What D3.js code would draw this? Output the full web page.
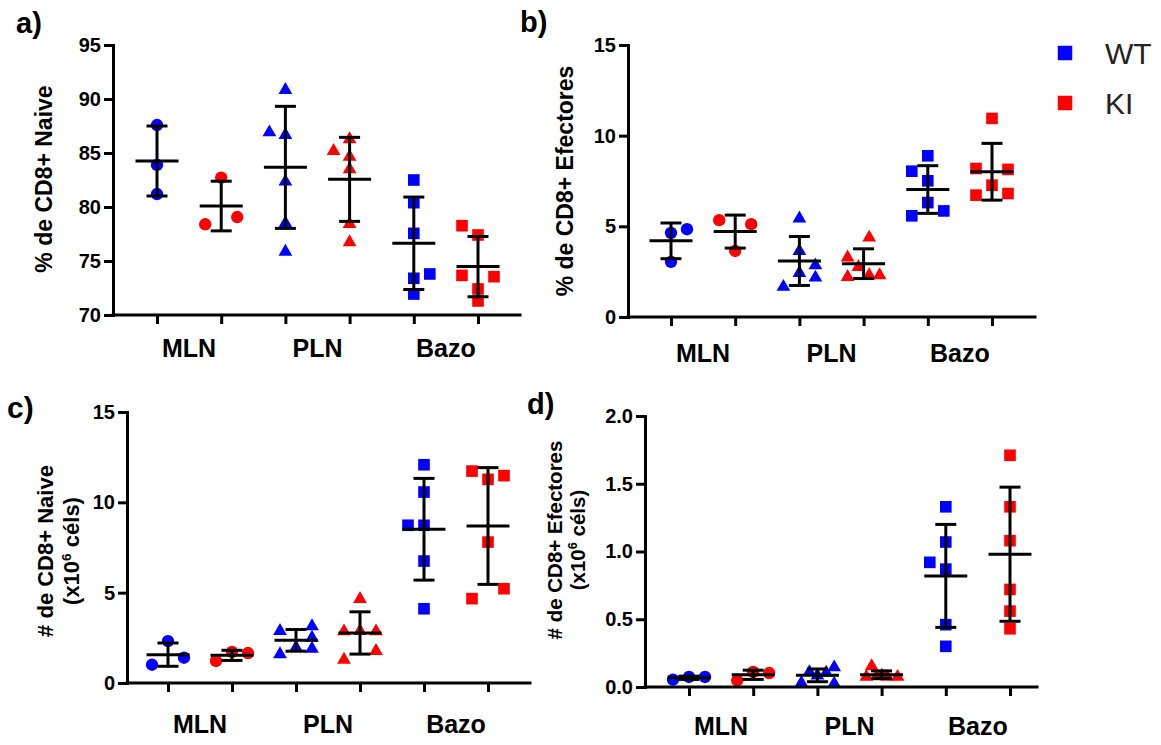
<!DOCTYPE html>
<html>
<head>
<meta charset="utf-8">
<script src="https://cdn.jsdelivr.net/npm/d3@7"></script>
<style>
  html, body { margin: 0; padding: 0; background: #ffffff; }
  svg { display: block; }
</style>
</head>
<body>
<svg id="chart" width="1161" height="745"></svg>
<script>
// ---------------- DATA ----------------
const categories = ["MLN", "PLN", "Bazo"];
const genotypes = ["WT", "KI"];
// column order in each panel: WT-MLN, KI-MLN, WT-PLN, KI-PLN, WT-Bazo, KI-Bazo

// a) % de CD8+ Naive
const aTicks = [70, 75, 80, 85, 90, 95];
const aValues = [
  [87.59, 83.89, 81.20],
  [82.72, 78.40, 79.07],
  [90.83, 86.91, 86.67, 82.35, 78.49, 75.86],
  [86.27, 85.19, 84.66, 83.49, 78.43, 76.73],
  [82.50, 80.40, 77.56, 73.40, 73.80, 71.94],
  [78.27, 77.41, 73.67, 73.55, 72.41, 71.30]
];
const aSpread = [
  [0, 0, 0],
  [0, -1, 1],
  [0, -1, 0, 0, 0, 0],
  [0, -1, 0, 0, 0, 0],
  [0, 0, 0, 0, 1, 0],
  [-1, 0, -1, 1, 0, 0]
];
const aMean = [84.26, 80.09, 83.67, 82.56, 76.64, 74.48];
const aSD = [3.24, 2.30, 5.65, 3.89, 4.28, 2.79];

// b) % de CD8+ Efectores
const bTicks = [0, 5, 10, 15];
const bValues = [
  [4.64, 4.84, 3.04],
  [5.34, 5.12, 3.64],
  [5.43, 3.64, 2.85, 2.43, 2.17, 1.66],
  [4.38, 3.28, 2.76, 2.21, 2.30, 2.30],
  [8.89, 8.04, 7.51, 6.31, 5.58, 5.85],
  [10.95, 8.19, 8.14, 7.27, 6.72, 6.81]
];
const bSpread = [
  [0, 1, 0],
  [-1, 1, 0],
  [0, 0, 1, 0, 1, -1],
  [0.35, -1, -0.32, -1, 0.35, 1],
  [0, -1, 0, 0, -1, 1],
  [0, -1, 1, 0, -1, 1]
];
const bMean = [4.20, 4.71, 3.09, 2.94, 7.03, 8.01];
const bSD = [0.985, 0.91, 1.35, 0.82, 1.315, 1.565];

// c) # de CD8+ Naive (x10^6 céls)
const cTicks = [0, 5, 10, 15];
const cValues = [
  [2.32, 1.40, 1.01],
  [1.22, 1.72, 1.66],
  [2.88, 3.14, 2.51, 1.96, 1.90, 1.59],
  [4.65, 2.86, 2.88, 2.86, 1.77, 1.29],
  [12.08, 10.57, 8.73, 8.73, 6.75, 4.11],
  [11.73, 11.27, 11.48, 7.80, 4.67, 5.22]
];
const cSpread = [
  [0, 1, -1],
  [-1, 0, 1],
  [-1, 1, 1, 0, 1, -1],
  [0, -1, 0, 1, 1, -1],
  [0, 0, -1, 0, 0, 0],
  [-1, 0, 1, 0, -1, 1]
];
const cMean = [1.57, 1.53, 2.36, 2.77, 8.51, 8.69];
const cSD = [0.645, 0.28, 0.60, 1.17, 2.815, 3.23];

// d) # de CD8+ Efectores (x10^6 céls)
const dTicks = [0.0, 0.5, 1.0, 1.5, 2.0];
const dValues = [
  [0.054, 0.074, 0.074],
  [0.049, 0.111, 0.103],
  [0.030, 0.110, 0.085, 0.105, 0.145, 0.025],
  [0.153, 0.075, 0.080, 0.075, 0.075, 0.085],
  [1.33, 1.07, 0.92, 0.87, 0.46, 0.30],
  [1.71, 1.33, 1.08, 0.72, 0.56, 0.43]
];
const dSpread = [
  [-1, 0, 1],
  [-1, 0, 1],
  [-1, -0.5, 0, 0.55, 1.05, 1.05],
  [-0.62, -0.95, -0.3, 0.35, 1.0, 0.02],
  [0, 0, -1, 0, 0, 0],
  [0, 0, 0, 0, 0, 0]
];
const dMean = [0.068, 0.090, 0.086, 0.091, 0.82, 0.98];
const dSD = [0.012, 0.034, 0.047, 0.028, 0.38, 0.495];

// ---------------- STYLE / LAYOUT ----------------
const FONT = "'Liberation Sans', Arial, Helvetica, sans-serif";
const colorOf = { WT: "#0000ff", KI: "#ff0000" };
const shapeOf = { MLN: d3.symbolCircle, PLN: d3.symbolTriangle, Bazo: d3.symbolSquare };
const sizeOf = { MLN: 120, PLN: 82, Bazo: 135 };

const svg = d3.select("#chart");

// faint legend backdrop
svg.append("rect").attr("x", 1033).attr("y", 22).attr("width", 128).attr("height", 112)
  .attr("fill", "#fdfdfd");

const panels = [
  { key: "a)", values: aValues, spread: aSpread, mean: aMean, sd: aSD, ticks: aTicks,
    domain: [70, 95], fmt: d3.format("d"),
    left: 113, right: 520, top: 45, bottom: 315, first: 157, last: 478,
    tag: { x: 16, y: 33, size: 29 }, catY: 357,
    title: { lines: ["% de CD8+ Naive"], x: [52], size: 23, cy: 179 } },
  { key: "b)", values: bValues, spread: bSpread, mean: bMean, sd: bSD, ticks: bTicks,
    domain: [0, 15], fmt: d3.format("d"),
    left: 628, right: 1035, top: 45, bottom: 317, first: 671, last: 992,
    tag: { x: 520, y: 32, size: 29 }, catY: 362,
    title: { lines: ["% de CD8+ Efectores"], x: [573], size: 23, cy: 181 } },
  { key: "c)", values: cValues, spread: cSpread, mean: cMean, sd: cSD, ticks: cTicks,
    domain: [0, 15], fmt: d3.format("d"),
    left: 127, right: 530, top: 412, bottom: 683, first: 168, last: 488,
    tag: { x: 7, y: 418, size: 30 }, catY: 733,
    title: { lines: ["# de CD8+ Naive", "SUP"], x: [53, 79], size: 22, cy: 551 } },
  { key: "d)", values: dValues, spread: dSpread, mean: dMean, sd: dSD, ticks: dTicks,
    domain: [0, 2], fmt: d3.format(".1f"),
    left: 645, right: 1037, top: 416, bottom: 687, first: 689, last: 1010,
    tag: { x: 527, y: 414, size: 29 }, catY: 735,
    title: { lines: ["# de CD8+ Efectores", "SUP"], x: [562, 585], size: 20.5, cy: 540 } }
];

const colKeys = [];
categories.forEach(c => genotypes.forEach(g => colKeys.push({ cat: c, geno: g, id: g + "-" + c })));

const spreadScale = d3.scaleLinear().domain([-1, 1]).range([-16, 16]);

panels.forEach(p => {
  const g = svg.append("g");
  const y = d3.scaleLinear().domain(p.domain).range([p.bottom, p.top]);
  const x = d3.scalePoint().domain(colKeys.map(k => k.id)).range([p.first, p.last]);

  // points
  colKeys.forEach((k, i) => {
    const pts = p.values[i].map((v, j) => ({ v, s: p.spread[i][j] }));
    g.append("g").selectAll("path").data(pts).join("path")
      .attr("d", d3.symbol().type(shapeOf[k.cat]).size(sizeOf[k.cat]))
      .attr("transform", d => `translate(${x(k.id) + spreadScale(d.s)},${y(d.v)})`)
      .attr("fill", colorOf[k.geno]);
  });

  // mean +/- SD bars
  const bars = g.append("g").attr("stroke", "#000").attr("stroke-width", 3).attr("fill", "none");
  colKeys.forEach((k, i) => {
    const cx = x(k.id), m = p.mean[i], s = p.sd[i];
    bars.append("line").attr("x1", cx - 21.5).attr("x2", cx + 21.5).attr("y1", y(m)).attr("y2", y(m));
    bars.append("line").attr("x1", cx).attr("x2", cx).attr("y1", y(m + s)).attr("y2", y(m - s));
    bars.append("line").attr("x1", cx - 10.5).attr("x2", cx + 10.5).attr("y1", y(m + s)).attr("y2", y(m + s));
    bars.append("line").attr("x1", cx - 10.5).attr("x2", cx + 10.5).attr("y1", y(m - s)).attr("y2", y(m - s));
  });

  // y axis
  const ya = g.append("g").attr("transform", `translate(${p.left},0)`)
    .call(d3.axisLeft(y).tickValues(p.ticks).tickFormat(p.fmt).tickSize(9).tickPadding(3).tickSizeOuter(0));
  ya.select(".domain").attr("stroke-width", 3).attr("stroke-linecap", "square");
  ya.selectAll(".tick line").attr("stroke-width", 3);
  ya.selectAll(".tick text").attr("font-family", FONT).attr("font-weight", "bold")
    .attr("font-size", 20).attr("fill", "#000");

  // x axis
  const xa = g.append("g").attr("transform", `translate(0,${p.bottom})`)
    .call(d3.axisBottom(x).tickSize(9).tickFormat("").tickSizeOuter(0));
  xa.select(".domain").attr("d", `M${p.left},0H${p.right}`).attr("stroke-width", 3)
    .attr("stroke-linecap", "square");
  xa.selectAll(".tick line").attr("stroke-width", 3);

  // category labels
  categories.forEach(c => {
    const cx = (x("WT-" + c) + x("KI-" + c)) / 2;
    g.append("text").attr("x", cx).attr("y", p.catY).attr("text-anchor", "middle")
      .attr("font-family", FONT).attr("font-weight", "bold").attr("font-size", 25)
      .text(c);
  });

  // y title
  p.title.lines.forEach((line, li) => {
    const t = g.append("text")
      .attr("transform", `translate(${p.title.x[li]},${p.title.cy}) rotate(-90)`)
      .attr("text-anchor", "middle").attr("font-family", FONT).attr("font-weight", "bold")
      .attr("font-size", p.title.size);
    if (line === "SUP") {
      t.append("tspan").text("(x10");
      t.append("tspan").attr("dy", -p.title.size * 0.38).attr("font-size", p.title.size * 0.62).text("6");
      t.append("tspan").attr("dy", p.title.size * 0.38).text(" céls)");
    } else {
      t.text(line);
    }
  });

  // panel tag
  svg.append("text").attr("x", p.tag.x).attr("y", p.tag.y)
    .attr("font-family", FONT).attr("font-weight", "bold").attr("font-size", p.tag.size)
    .text(p.key);
});

// legend
const legend = svg.append("g");
genotypes.forEach((gname, i) => {
  const ly = 53 + i * 50;
  legend.append("path")
    .attr("d", d3.symbol().type(d3.symbolSquare).size(210))
    .attr("transform", `translate(1065,${ly})`)
    .attr("fill", colorOf[gname]);
  legend.append("text").attr("x", 1105).attr("y", ly + 11)
    .attr("font-family", FONT).attr("font-size", 30).attr("fill", "#222")
    .text(gname);
});
</script>
</body>
</html>
